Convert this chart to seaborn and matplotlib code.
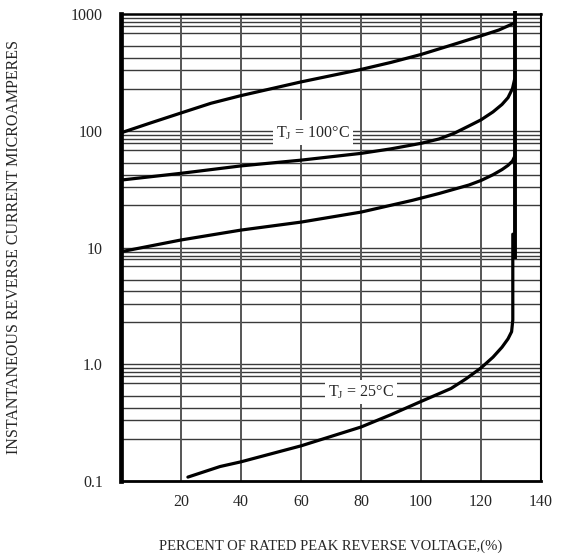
import numpy as np
import pandas as pd
import matplotlib
matplotlib.use('Agg')
import matplotlib.pyplot as plt
import matplotlib.ticker as mticker
import seaborn as sns

# curves (percent of rated voltage, microamperes)
curve_a_x = [0, 10, 20, 30, 40, 60, 80, 90, 100, 110, 120, 126, 131.3]
curve_a_y = [96, 117, 142, 172, 200, 262, 335, 385, 450, 540, 650, 730, 840]

curve_b_x = [0, 20, 40, 60, 80, 90, 100, 106, 111, 116, 120, 124, 127, 129, 130.5, 131.2]
curve_b_y = [37.8, 43.2, 50, 56, 64, 70, 78, 85, 95, 110, 124, 145, 168, 192, 230, 275]

curve_c_x = [0, 20, 40, 60, 80, 97, 106, 116, 120, 124, 127, 129, 130.5, 131.2]
curve_c_y = [9.2, 11.6, 14.1, 16.5, 20.1, 25.3, 29, 34.3, 37.5, 42, 46.5, 50.5, 55, 60]

curve_d_x = [22.3, 33, 40, 60, 80, 90, 100, 110, 115, 120, 124, 127, 129, 130.2, 130.6, 130.6]
curve_d_y = [0.108, 0.133, 0.146, 0.2, 0.29, 0.37, 0.48, 0.62, 0.75, 0.93, 1.15, 1.4, 1.65, 1.9, 2.4, 13]

breakdown_x = [131.3, 131.3]
breakdown_y = [8, 1060]

x_ticks = [20, 40, 60, 80, 100, 120, 140]
y_ticks = [0.1, 1, 10, 100, 1000]
y_tick_labels = ['0.1', '1.0', '10', '100', '1000']
# the printed grid is not a true log cycle; these are the line positions inside each decade
minor_marks = [2.3, 3.3, 4.2, 5.3, 6.9, 7.9, 8.5, 9.2]


def main():
    sns.set_style('white')
    plt.rcParams['font.family'] = ['Liberation Serif', 'DejaVu Serif']

    fig = plt.figure(figsize=(5.68, 5.56), dpi=100)
    ax = fig.add_axes([121 / 568, 75 / 556, 420 / 568, 467 / 556])

    ax.set_yscale('log')
    ax.set_xlim(0, 140)
    ax.set_ylim(0.1, 1000)

    # grid
    minor_vals = [m * d for d in [0.1, 1, 10, 100] for m in minor_marks]
    for v in minor_vals + [1, 10, 100]:
        ax.axhline(v, color='#3a3a3a', lw=1.0, zorder=1)
    for v in x_ticks[:-1]:
        ax.axvline(v, color='#555555', lw=1.4, zorder=1)

    for cx, cy in [(curve_a_x, curve_a_y), (curve_b_x, curve_b_y),
                   (curve_c_x, curve_c_y), (curve_d_x, curve_d_y)]:
        df = pd.DataFrame({'x': cx, 'y': cy})
        sns.lineplot(data=df, x='x', y='y', sort=False, estimator=None,
                     color='black', lw=2.3, ax=ax, zorder=3)
    ax.plot(breakdown_x, breakdown_y, color='black', lw=2.8, zorder=3,
            clip_on=False, solid_capstyle='butt')

    ax.set_xticks(x_ticks)
    ax.set_xticklabels([str(t) for t in x_ticks], fontsize=11.5)
    ax.yaxis.set_major_locator(mticker.FixedLocator(y_ticks))
    ax.yaxis.set_minor_locator(mticker.NullLocator())
    ax.set_yticklabels(y_tick_labels, fontsize=11.5)
    ax.tick_params(axis='x', length=0, pad=9)
    ax.tick_params(axis='y', length=0, pad=13)

    for side, w in [('left', 3.4), ('bottom', 2.0), ('top', 1.8), ('right', 1.5)]:
        ax.spines[side].set_visible(True)
        ax.spines[side].set_color('black')
        ax.spines[side].set_linewidth(w)

    ax.set_xlabel('PERCENT OF RATED PEAK REVERSE VOLTAGE,(%)', fontsize=10.5)
    ax.set_ylabel('INSTANTANEOUS REVERSE CURRENT MICROAMPERES', fontsize=11.5)
    ax.xaxis.set_label_coords(0.5, -59 / 467)
    ax.yaxis.set_label_coords(-99 / 420, 0.5)

    box = dict(facecolor='white', edgecolor='none', pad=2.5)
    ax.text(64, 96, r'T$_\mathregular{J}$ = 100°C', fontsize=11.5, ha='center',
            va='center', bbox=box, zorder=4)
    ax.text(80, 0.58, r'T$_\mathregular{J}$ = 25°C', fontsize=11.5, ha='center',
            va='center', bbox=box, zorder=4)

    fig.savefig('out.png', dpi=100)
    plt.close(fig)


if __name__ == '__main__':
    main()
